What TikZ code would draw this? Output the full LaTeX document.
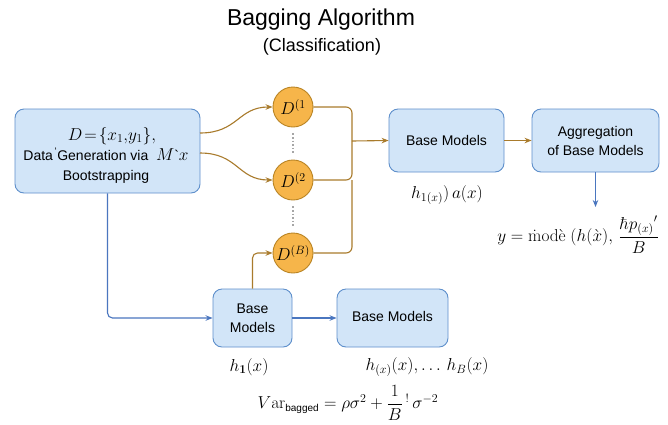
\documentclass[tikz,border=0pt]{standalone}
\usepackage{amsmath}
\usepackage[no-math]{fontspec}
\setmainfont{Liberation Sans}
\usetikzlibrary{arrows.meta}
\definecolor{boxfill}{HTML}{D2E5F8}
\definecolor{boxline}{HTML}{5E8FCB}
\definecolor{circfill}{HTML}{F6B54A}
\definecolor{circline}{HTML}{B98424}
\definecolor{orangeline}{HTML}{A97B2C}
\definecolor{blueline}{HTML}{4A76BF}
\tikzset{
  modelbox/.style={draw=boxline, fill=boxfill, line width=0.9pt, rounded corners=9pt,
    align=center, font=\fontsize{14}{19}\selectfont, inner sep=0pt},
  sample/.style={circle, draw=circline, fill=circfill, line width=0.9pt,
    minimum size=40pt, inner sep=0pt, font=\fontsize{17}{20}\selectfont},
  oarrow/.style={draw=orangeline, line width=1.1pt, -{Stealth[length=7pt,width=5.5pt]}},
  oline/.style={draw=orangeline, line width=1.1pt},
  barrow/.style={draw=blueline, line width=1.1pt, -{Stealth[length=7pt,width=5.5pt]}},
  dotline/.style={draw=gray!70, line width=1.6pt, dotted},
  mathlabel/.style={font=\fontsize{17.5}{20}\selectfont, inner sep=0pt},
}
\begin{document}
\begin{tikzpicture}[x=1pt, y=-1pt]
\useasboundingbox[fill=white] (0,0) rectangle (668,424);

% title
\node (title) at (321,20) {\fontsize{23}{26}\selectfont Bagging Algorithm};
\node (subtitle) at (322,47) {\fontsize{18}{21}\selectfont (Classification)};

% data box
\node[modelbox, minimum width=185pt, minimum height=84pt] (data) at (107.5,151) {};
\node[align=center, font=\fontsize{14}{20}\selectfont, inner sep=0pt] (datatext) at (106,155)
  {\hspace*{12pt}{\fontsize{16.5}{18}\selectfont$D\!=\!\{x_1,\!y_1\},$}\\
   Data\textsuperscript{\,\textquoteleft}Generation via \ {\fontsize{16}{18}\selectfont$M$}\textasciigrave{\fontsize{16}{18}\selectfont$x$}\\
   Bootstrapping};

% bootstrap samples
\node[sample] (d1) at (293,107) {$D^{(1}$};
\node[sample] (d2) at (293,180) {$D^{(2}$};
\node[sample] (db) at (293,253) {$D^{(B)}$};
\draw[dotline] ([yshift=-6pt]d1.south) -- ([yshift=6pt]d2.north);
\draw[dotline] ([yshift=-6pt]d2.south) -- ([yshift=6pt]db.north);

% models
\node[modelbox, minimum width=115pt, minimum height=63pt] (base) at (446.5,140.5) {Base Models};
\node[modelbox, minimum width=127pt, minimum height=63pt] (agg) at (595.5,140.5) {Aggregation\\of Base Models};
\node[modelbox, minimum width=79pt, minimum height=58pt] (bm1) at (252.5,318) {Base\\Models};
\node[modelbox, minimum width=111pt, minimum height=58pt] (bm2) at (392.5,318) {\raisebox{4pt}{Base Models}};

% labels
\node[mathlabel] (lbase) at (447,195) {$h_{1(x)})\,a(x)$};
\node[mathlabel] (lmode) at (578,235) {$y=\dot{\mathrm{m}}\mathrm{od}\grave{\mathrm{e}}\;(h(\grave{x}),\,\dfrac{\hbar p_{(x)}{}'}{B}$};
\node[mathlabel] (lh1) at (249,367) {$h_{\mathbf{1}}(x)$};
\node[mathlabel] (lhb) at (427,367) {$h_{(x)}(x),\ldots\,h_B(x)$};
\node[mathlabel] (lvar) at (348,403) {$V\mathrm{ar}_{\text{\fontsize{10}{12}\selectfont bagged}}=\rho\sigma^{2}+\dfrac{1}{B}\,{}^{!}\,\sigma^{-2}$};

% data to samples
\coordinate (o1) at (200,133);
\coordinate (o2) at (200,153);
\draw[oarrow] (o1) .. controls (238,133) and (238,107) .. (d1.west);
\draw[oarrow] (o2) .. controls (238,153) and (238,180) .. (d2.west);

% samples to base model
\coordinate (merge) at (352,141);
\draw[oline, rounded corners=6pt] (d1.east) -- (352,107) -- (merge);
\draw[oline, rounded corners=6pt] (d2.east) -- (352,180) -- (merge);
\draw[oline, rounded corners=6pt] (db.east) -- (352,253) -- (352,180);
\draw[oarrow] (merge) -- (base.west);
\draw[oarrow] (base.east) -- (agg.west);

% aggregation output
\coordinate (yout) at (595.5,207);
\draw[barrow] (agg.south) -- (yout);

% lower branch
\draw[barrow, rounded corners=5pt] (data.south) |- (bm1.west);
\draw[oarrow, rounded corners=5pt] (bm1.north) |- (db.west);
\draw[barrow] (bm1.east) -- (bm2.west);
\end{tikzpicture}
\end{document}
